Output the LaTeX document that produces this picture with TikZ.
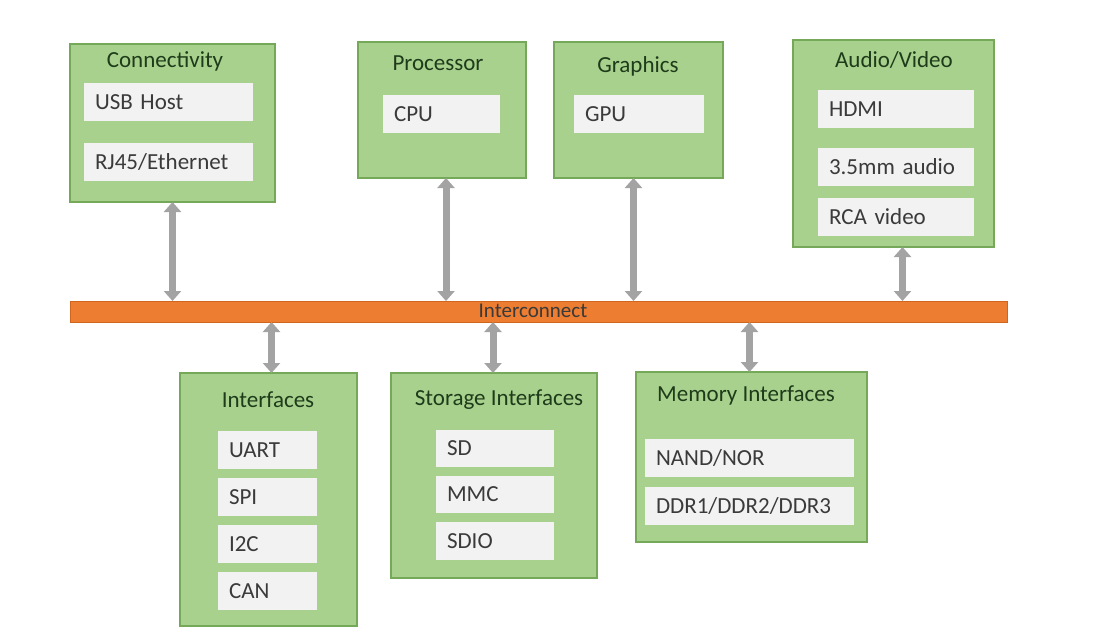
\documentclass[tikz,border=0pt]{standalone}
\usepackage{fontspec}
\setmainfont{Carlito}
\usetikzlibrary{arrows.meta}

\definecolor{groupfill}{HTML}{A9D18E}
\definecolor{groupline}{HTML}{76A85A}
\definecolor{titletext}{HTML}{1E3B1A}
\definecolor{itemfill}{HTML}{F2F2F2}
\definecolor{itemtext}{HTML}{3A3A3A}
\definecolor{busfill}{HTML}{ED7D31}
\definecolor{busline}{HTML}{D0651E}
\definecolor{linkgray}{HTML}{A3A3A3}

\begin{document}
\begin{tikzpicture}[x=1pt,y=-1pt,
  every node/.style = {inner sep=0pt, outer sep=0pt},
  group/.style = {draw=groupline, fill=groupfill, line width=1.2pt, anchor=north west},
  grouptitle/.style = {text=titletext, font=\fontsize{23}{27}\selectfont, anchor=center},
  item/.style = {fill=itemfill, anchor=north west, text=itemtext,
    font=\fontsize{23}{27}\selectfont, align=left, text depth=0pt},
  link/.style = {draw=linkgray, line width=7pt,
    {Triangle[width=17pt,length=10pt]}-{Triangle[width=17pt,length=10pt]}}]
  \useasboundingbox (0,0) rectangle (1101,635);

  % interconnect bar
  \node[draw=busline, fill=busfill, line width=0.8pt, anchor=north west,
    minimum width=937, minimum height=21] (bus) at (70,301) {};
  \node[text=itemtext, font=\fontsize{21}{23}\selectfont] (buslabel) at (533,311) {Interconnect};

  % top row
  \node[group, minimum width=205, minimum height=158] (conn) at (70,44) {};
  \node[grouptitle] (conntitle) at (165,61) {Connectivity};
  \node[item, minimum width=169, minimum height=38, text width=155] (usb) at (84,83) {\hspace*{4pt}USB Host};
  \node[item, minimum width=169, minimum height=38, text width=155] (rj45) at (84,143) {\hspace*{4pt}RJ45/Ethernet};

  \node[group, minimum width=168, minimum height=136] (proc) at (358,42) {};
  \node[grouptitle] (proctitle) at (438,63) {Processor};
  \node[item, minimum width=117, minimum height=38, text width=103] (cpu) at (383,95) {\hspace*{4pt}CPU};

  \node[group, minimum width=169, minimum height=136] (gfx) at (554,42) {};
  \node[grouptitle] (gfxtitle) at (638,66) {Graphics};
  \node[item, minimum width=130, minimum height=38, text width=116] (gpu) at (574,95) {\hspace*{4pt}GPU};

  \node[group, minimum width=201, minimum height=207] (av) at (793,40) {};
  \node[grouptitle] (avtitle) at (894,60) {Audio/Video};
  \node[item, minimum width=156, minimum height=38, text width=142] (hdmi) at (818,90) {\hspace*{4pt}HDMI};
  \node[item, minimum width=156, minimum height=38, text width=142] (jack) at (818,148) {\hspace*{4pt}3.5mm audio};
  \node[item, minimum width=156, minimum height=38, text width=142] (rca) at (818,198) {\hspace*{4pt}RCA video};

  % bottom row
  \node[group, minimum width=177, minimum height=253] (intf) at (180,373) {};
  \node[grouptitle] (intftitle) at (268,400) {Interfaces};
  \node[item, minimum width=99, minimum height=38, text width=85] (uart) at (218,431) {\hspace*{4pt}UART};
  \node[item, minimum width=99, minimum height=38, text width=85] (spi) at (218,478) {\hspace*{4pt}SPI};
  \node[item, minimum width=99, minimum height=38, text width=85] (i2c) at (218,525) {\hspace*{4pt}I2C};
  \node[item, minimum width=99, minimum height=38, text width=85] (can) at (218,572) {\hspace*{4pt}CAN};

  \node[group, minimum width=206, minimum height=205] (stor) at (391,373) {};
  \node[grouptitle] (stortitle) at (499,400) {Storage Interfaces};
  \node[item, minimum width=118, minimum height=37, text width=104] (sd) at (436,430) {\hspace*{4pt}SD};
  \node[item, minimum width=118, minimum height=37, text width=104] (mmc) at (436,476) {\hspace*{4pt}MMC};
  \node[item, minimum width=118, minimum height=38, text width=104] (sdio) at (436,522) {\hspace*{4pt}SDIO};

  \node[group, minimum width=231, minimum height=170] (mem) at (636,372) {};
  \node[grouptitle] (memtitle) at (746,395) {Memory Interfaces};
  \node[item, minimum width=209, minimum height=38, text width=195] (nand) at (645,439) {\hspace*{4pt}NAND/NOR};
  \node[item, minimum width=209, minimum height=38, text width=195] (ddr) at (645,487) {\hspace*{4pt}DDR1/DDR2/DDR3};

  % links to the interconnect
  \draw[link] (conn.south) -- (conn.south |- bus.north);
  \draw[link] ([xshift=4pt]proc.south) -- ([xshift=4pt]proc.south |- bus.north);
  \draw[link] ([xshift=-5pt]gfx.south) -- ([xshift=-5pt]gfx.south |- bus.north);
  \draw[link] ([xshift=9pt]av.south) -- ([xshift=9pt]av.south |- bus.north);
  \draw[link] ([xshift=3pt]intf.north) -- ([xshift=3pt]intf.north |- bus.south);
  \draw[link] ([xshift=-1pt]stor.north) -- ([xshift=-1pt]stor.north |- bus.south);
  \draw[link] ([xshift=-2pt]mem.north) -- ([xshift=-2pt]mem.north |- bus.south);
\end{tikzpicture}
\end{document}
